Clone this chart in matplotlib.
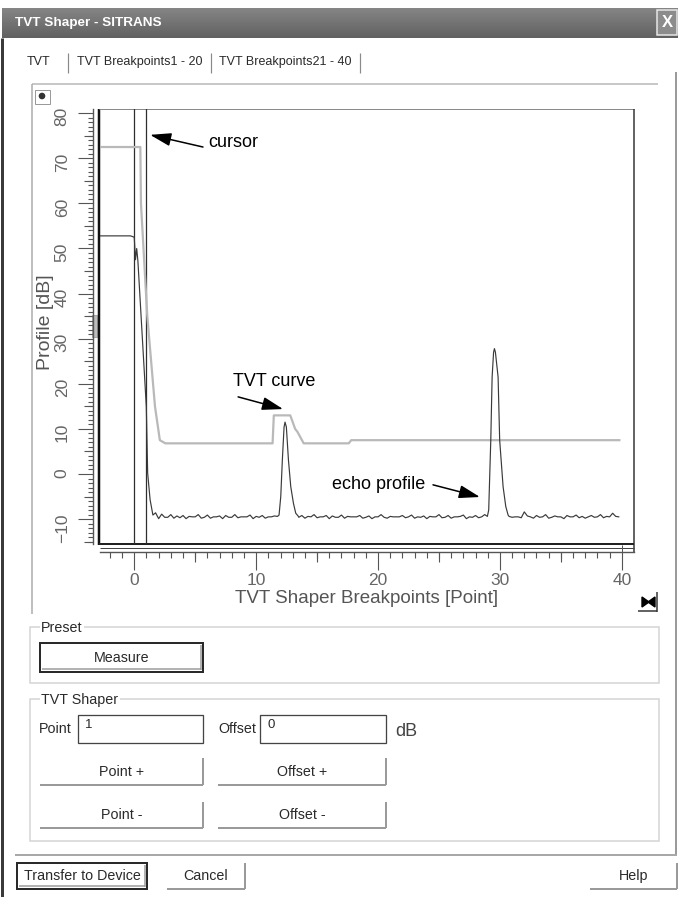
import matplotlib
matplotlib.use('Agg')
import matplotlib.pyplot as plt
import numpy as np
from matplotlib import font_manager
from matplotlib.patches import Rectangle, Polygon

# echo profile (x = breakpoint, y = dB)
head_x = [-3.0, -0.3, 0.0, 0.1, 0.2, 0.3, 0.77, 0.99, 1.1, 1.3, 1.53]
head_y = [52.8, 52.8, 52.5, 47.5, 50.0, 47.2, 25.2, 14.9, 0.2, -5.7, -9.1]
noise1 = [-8.6, -9.9, -8.9, -9.6, -9.6, -9.0, -9.8, -9.3, -9.7, -9.2,
          -9.9, -9.4, -9.5, -9.5, -9.0, -9.8, -9.6, -9.1, -9.8, -9.5,
          -9.5, -9.3, -9.9, -9.2, -9.6, -9.6, -9.0, -9.7, -9.5, -9.5,
          -9.5, -9.1, -9.9, -9.4, -9.6, -9.2, -9.8, -9.5, -9.5, -9.3, -9.4]
peak1_x = [11.88, 12.02, 12.15, 12.29, 12.37, 12.48, 12.65, 12.84, 13.06, 13.25, 13.44]
peak1_y = [-9.1, -5.0, 3.1, 10.4, 11.5, 10.4, 3.1, -2.8, -6.5, -8.7, -9.3]
noise2 = [-9.6, -9.2, -9.8, -9.4, -9.5, -9.0, -9.7, -9.5, -9.5, -9.2,
          -9.9, -9.3, -9.6, -9.6, -9.1, -9.8, -9.4, -9.5, -9.5, -9.5,
          -9.2, -9.8, -9.6, -9.3, -9.9, -9.5, -9.5, -9.0, -9.6, -9.8,
          -9.4, -9.5, -9.5, -9.5, -9.2, -9.7, -9.5, -9.1, -9.8, -9.5,
          -9.6, -9.3, -9.9, -9.4, -9.5, -9.5, -9.0, -9.7, -9.6, -9.2,
          -9.8, -9.5, -9.5, -9.4, -9.1, -9.9, -9.5, -9.6, -9.2, -9.7,
          -9.5, -9.0]
peak2_x = [28.97, 29.08, 29.25, 29.36, 29.48, 29.55, 29.63, 29.85, 29.98, 30.26, 30.48, 30.67]
peak2_y = [-9.4, -8.0, 7.5, 21.5, 27.0, 27.8, 27.0, 21.5, 7.5, -2.8, -7.2, -9.1]
noise3 = [-9.4, -9.6, -9.5, -9.5, -9.7, -8.4, -9.3, -9.5, -9.8, -9.2,
          -9.6, -9.5, -9.0, -9.8, -9.6, -9.3, -9.5, -9.5, -9.9, -9.2,
          -9.5, -9.5, -9.1, -9.7, -9.4, -9.8, -9.5, -9.2, -9.6, -9.5,
          -9.0, -9.7, -9.4, -9.5, -8.7, -9.4, -9.5]

# TVT curve breakpoints
tvt_x = [-3.0, 0.5, 0.55, 1.07, 1.7, 2.1, 2.55, 11.35, 11.45, 12.8, 13.2, 13.4, 13.9, 17.6, 17.8, 39.8]
tvt_y = [72.5, 72.5, 60.0, 35.0, 15.0, 7.5, 6.8, 6.8, 13.0, 13.0, 10.0, 9.3, 6.8, 6.8, 7.5, 7.5]

cursor_pos = [0, 1]
x_major = [0, 10, 20, 30, 40]
y_major = [-10, 0, 10, 20, 30, 40, 50, 60, 70, 80]

echo_x = np.concatenate([head_x, 1.75 + 0.25 * np.arange(len(noise1)), peak1_x,
                         13.5 + 0.25 * np.arange(len(noise2)), peak2_x,
                         30.75 + 0.25 * np.arange(len(noise3))])
echo_y = np.concatenate([head_y, noise1, peak1_y, noise2, peak2_y, noise3])


def has_font(name):
    try:
        font_manager.findfont(font_manager.FontProperties(family=name), fallback_to_default=False)
        return True
    except ValueError:
        return False


narrow = has_font('Liberation Sans Narrow')
plt.rcParams['font.family'] = ['Liberation Sans', 'DejaVu Sans']

W, H = 678, 897
PX = 0.72  # points per pixel at 100 dpi
fig = plt.figure(figsize=(W / 100, H / 100), dpi=100)
fig.patch.set_facecolor('white')

# background axes in pixel units for the dialog chrome
bg = fig.add_axes([0, 0, 1, 1])
bg.axis('off')


def hline(y, x0, x1, c, w=1):
    bg.plot([x0, x1], [y, y], color=c, lw=w * PX, solid_capstyle='butt')


def vline(x, y0, y1, c, w=1):
    bg.plot([x, x], [y0, y1], color=c, lw=w * PX, solid_capstyle='butt')


def box(x0, y0, x1, y1, ec, w=1, fc='none'):
    bg.add_patch(Rectangle((x0, y0), x1 - x0, y1 - y0, ec=ec, fc=fc, lw=w * PX))


def label(x, y, s, size=10.3, ha='left', color='#2a2a2a', **kw):
    bg.text(x, y, s, ha=ha, va='center', fontsize=size, color=color, **kw)


def flat_button(x0, y0, x1, y1, s):
    hline(y1, x0, x1, '#9a9a9a', 2)
    vline(x1, y0, y1, '#9a9a9a', 2)
    label((x0 + x1) / 2, (y0 + y1) / 2, s, ha='center')


def default_button(x0, y0, x1, y1, s):
    box(x0, y0, x1, y1, '#2a2a2a', 2)
    hline(y1 - 2.5, x0 + 2, x1 - 2, '#9a9a9a', 1.5)
    vline(x1 - 2.5, y0 + 2, y1 - 2, '#9a9a9a', 1.5)
    label((x0 + x1) / 2, (y0 + y1) / 2, s, ha='center')


def group(x0, y0, x1, y1, s):
    box(x0, y0, x1, y1, '#d4d4d4', 1.5)
    label(x0 + 11, y0 + 1, s, bbox=dict(fc='white', ec='none', pad=1))


# title bar
grad = np.linspace(0.52, 0.38, 30).reshape(-1, 1)
bg.imshow(grad, extent=(2, 678, 38, 8), cmap='gray', vmin=0, vmax=1, aspect='auto')
title_kw = dict(family=['Liberation Sans Narrow', 'Liberation Sans'], fontsize=11.5) if narrow \
    else dict(fontsize=9.7)
bg.text(15, 23, 'TVT Shaper - SITRANS', color='white', fontweight='bold', va='center', **title_kw)
box(657, 10, 677, 35, '#e8e8e8', 1.5, fc='#8c8c8c')
bg.text(667, 22.5, 'X', color='white', ha='center', va='center', fontsize=12, fontweight='bold')

# dialog borders
vline(1.5, 38, 897, '#3a3a3a', 3)
vline(676, 72, 855, '#9a9a9a', 2)
hline(855, 15, 677, '#a8a8a8', 2)

# tabs
label(27, 62, 'TVT', size=9)
label(77, 62, 'TVT Breakpoints1 - 20', size=9)
label(219, 62, 'TVT Breakpoints21 - 40', size=9)
for sx in [68, 211, 360]:
    vline(sx, 53, 73, '#8a8a8a', 1.2)

# chart panel frame
hline(84, 32, 658, '#c8c8c8', 2)
vline(32, 84, 614, '#aaaaaa', 1.5)
box(35, 90, 50, 104, '#9a9a9a', 1)
bg.add_patch(plt.Circle((42, 96), 2.6, color='#333333'))
# scroll-to-end icon
bg.add_patch(Polygon([(642, 597), (649, 602), (642, 607)], color='black'))
bg.add_patch(Polygon([(655, 597), (648, 602), (655, 607)], color='black'))
hline(611, 638, 657, '#333333', 1.5)
vline(657, 592, 612, '#333333', 1.5)

# plot frame and rulers
vline(99, 109, 545, '#111111', 2.5)
hline(109, 99, 634, '#8a8a8a', 1)
vline(634, 109, 552, '#333333', 1.5)
hline(544, 99, 634, '#222222', 2)
hline(548, 100, 634, '#444444', 1)
vline(622, 545, 552, '#555555', 1)
box(92, 315, 97, 337, '#999999', 0.8, fc='#bdbdbd')

# Preset group
group(30, 627, 659, 683, 'Preset')
default_button(40, 643, 203, 672, 'Measure')

# TVT Shaper group
group(30, 699, 659, 841, 'TVT Shaper')
label(39, 729, 'Point')
box(78, 715, 203, 743, '#444444', 1.3)
label(85, 725, '1', size=9.5)
label(218, 729, 'Offset')
box(260, 715, 386, 743, '#444444', 1.3)
label(267, 725, '0', size=9.5)
label(395, 732, 'dB', size=13, color='#444444')
flat_button(40, 758, 203, 785, 'Point +')
flat_button(218, 758, 386, 785, 'Offset +')
flat_button(40, 802, 203, 828, 'Point -')
flat_button(218, 802, 386, 828, 'Offset -')

# bottom buttons
default_button(17, 863, 147, 889, 'Transfer to Device')
flat_button(167, 863, 245, 889, 'Cancel')
flat_button(590, 863, 677, 889, 'Help')

bg.set_xlim(0, W)
bg.set_ylim(H, 0)

# chart
L, R, T, B = 100, 634, 109, 544
ax = fig.add_axes([L / W, 1 - B / H, (R - L) / W, (B - T) / H], facecolor='none')
ax.set_xlim(-2.81, 41.0)
ax.set_ylim(-15.52, 80.93)

for c in cursor_pos:
    ax.axvline(c, color='#2e2e2e', lw=0.9)
ax.plot(tvt_x, tvt_y, color='#b9b9b9', lw=1.6)
ax.plot(echo_x, echo_y, color='#3a3a3a', lw=0.85)

for s in ['top', 'right']:
    ax.spines[s].set_visible(False)
ax.spines['left'].set_position(('outward', 7 * PX))
ax.spines['bottom'].set_position(('outward', 8 * PX))
for s in ['left', 'bottom']:
    ax.spines[s].set_color('#555555')
    ax.spines[s].set_linewidth(1.0)

ax.set_xticks(x_major)
ax.set_xticks(np.arange(-2, 41), minor=True)
ax.set_yticks(y_major)
ax.set_yticks(np.arange(-15, 81), minor=True)
ax.tick_params(axis='x', which='major', length=18 * PX, width=0.8, color='#555555',
               labelsize=12.5, labelcolor='#666666', pad=2)
ax.tick_params(axis='x', which='minor', length=6 * PX, width=0.8, color='#555555')
ax.tick_params(axis='y', which='major', length=15 * PX, width=0.8, color='#555555',
               labelsize=12.5, labelcolor='#666666', labelrotation=90, pad=6)
ax.tick_params(axis='y', which='minor', length=5 * PX, width=0.8, color='#555555')

# medium ticks at the fives
secx = ax.secondary_xaxis(-8 / (B - T))
secx.set_xticks([-0.0001 + v for v in [5, 15, 25, 35]])
secx.tick_params(length=10 * PX, width=0.8, color='#555555', labelbottom=False)
secx.spines['bottom'].set_visible(False)
secy = ax.secondary_yaxis(-7 / (R - L))
secy.set_yticks([-15, -5, 5, 15, 25, 35, 45, 55, 65, 75])
secy.tick_params(length=8.7 * PX, width=0.8, color='#555555', labelleft=False)
secy.spines['left'].set_visible(False)

ax.set_xlabel('TVT Shaper Breakpoints [Point]', fontsize=13.5, color='#555555')
ax.xaxis.set_label_coords(0.5, -0.106)
ax.set_ylabel('Profile [dB]', fontsize=14, color='#555555')
ax.yaxis.set_label_coords(-0.086, 0.51)

# annotations
if narrow:
    note_kw = dict(family=['Liberation Sans Narrow', 'Liberation Sans'], fontsize=15.5)
else:
    note_kw = dict(fontsize=13)
arrow = dict(arrowstyle='-|>,head_length=0.8,head_width=0.25', color='black', lw=1.1,
             mutation_scale=16, shrinkA=0, shrinkB=0)
ax.annotate('', xy=(1.30, 75.2), xytext=(5.64, 72.5), arrowprops=arrow)
ax.text(6.05, 73.4, 'cursor', va='center', color='black', **note_kw)
ax.annotate('', xy=(12.21, 14.4), xytext=(8.52, 17.1), arrowprops=arrow)
ax.text(8.1, 20.4, 'TVT curve', va='center', color='black', **note_kw)
ax.annotate('', xy=(28.36, -5.1), xytext=(24.51, -2.4), arrowprops=arrow)
ax.text(23.85, -2.4, 'echo profile', va='center', ha='right', color='black', **note_kw)

fig.savefig('out.png', dpi=100)
